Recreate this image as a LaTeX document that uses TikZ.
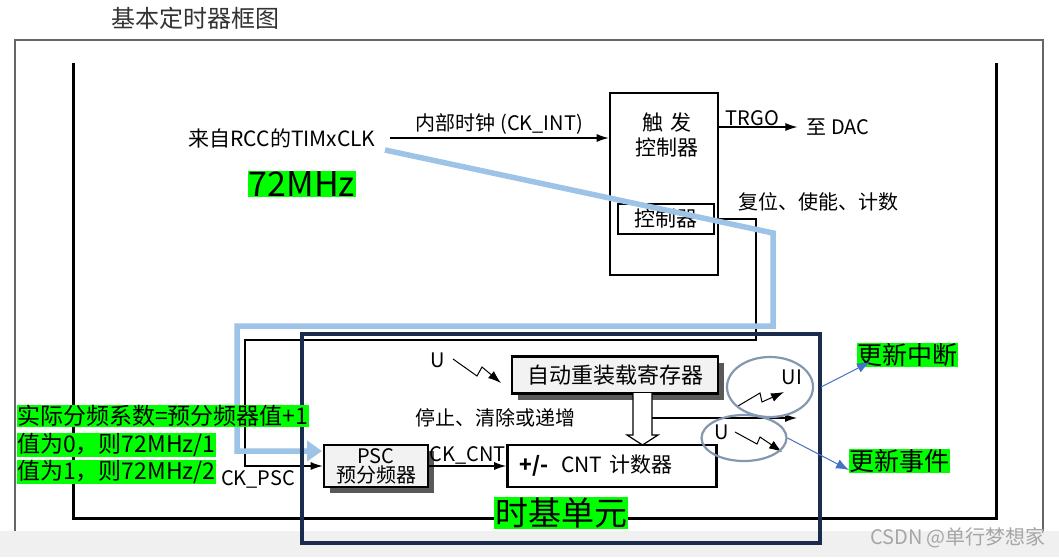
\documentclass[tikz,border=0pt]{standalone}
\usepackage{fontspec}
\setmainfont{Noto Sans CJK SC}
\usetikzlibrary{arrows.meta, positioning, shadows, shapes.geometric}
\definecolor{hlgreen}{RGB}{0,255,0}
\definecolor{pathblue}{RGB}{157,195,230}
\definecolor{navy}{RGB}{26,43,77}
\definecolor{ringgray}{RGB}{132,151,176}
\definecolor{callblue}{RGB}{68,114,196}
\definecolor{boxgray}{RGB}{242,242,242}
\newcommand{\pxfont}[2]{\fontsize{#1}{#2}\selectfont}
\tikzset{
    blockBox/.style={
        draw=black,
        fill=white,
        line width=2.6pt,
        inner sep=0pt
    },
    regBox/.style={
        blockBox,
        fill=boxgray,
        general shadow={fill=black!65, shadow xshift=6pt, shadow yshift=-6pt}
    },
    tag/.style={inner sep=1pt, font=\pxfont{20}{23}},
    hiLite/.style={fill=hlgreen, inner sep=1pt, text=black},
    sigLine/.style={line width=1.2pt},
    bolt/.style={line width=1pt, -{Latex[length=13pt, width=9pt]}},
    ring/.style={ellipse, draw=ringgray, line width=2.2pt, inner sep=0pt},
    callout/.style={draw=callblue, line width=1pt, -{Latex[length=13pt, width=10pt]}}
}

\begin{document}
\begin{tikzpicture}[x=1pt, y=-1pt, >={Latex[length=12pt, width=8pt]}]
    \useasboundingbox[fill=white] (0,0) rectangle (1059,557);
    \fill[black!6] (0,531) rectangle (1059,557);

    % Frames
    \draw[black!60, line width=1.5pt] (15,531) -- (15,40) -- (1043,40) -- (1043,531);
    \draw[line width=3pt] (73,63) -- (73,518) -- (996,518) -- (996,63);
    \node[font=\pxfont{24}{27}, text=black!80] (title) at (195,18) {基本定时器框图};

    % Blocks
    \node[blockBox, minimum width=108, minimum height=182] (trig) at (664,184) {};
    \node[font=\pxfont{21}{25}, align=center] (trigTxt) at (667,135) {触\,\,发\\控制器};
    \node[blockBox, minimum width=96, minimum height=30, font=\pxfont{21}{23}] (ctrl) at (666,219) {控制器};
    \node[regBox, minimum width=206, minimum height=37, font=\pxfont{22}{24}] (arr) at (615,375) {自动重装载寄存器};
    \node[regBox, minimum width=104, minimum height=42, font=\pxfont{20}{19}, align=center] (psc) at (376,466) {PSC\\预分频器};
    \node[blockBox, minimum width=209, minimum height=42, font=\pxfont{21}{23}, text width=185, align=left] (cnt) at (612,466) {\textbf{+/-}\hspace{0.6em}CNT 计数器};

    % Labels
    \node[font=\pxfont{21}{24}] (src) at (282,138) {来自RCC的TIMxCLK};
    \node[tag] (dac) at (838,127) {至 DAC};
    \node[tag] (rstTxt) at (818,202) {复位、使能、计数};
    \node[tag] (stopTxt) at (495,418) {停止、清除或递增};
    \node[tag] (ckpsc) at (258,479) {CK\_PSC};
    \node[tag] (uTxt) at (438,360) {U};
    \node[tag] (uiTxt) at (792,377) {UI};
    \node[tag] (u2Txt) at (722,432) {U};

    % Clock path
    \coordinate (c1) at (756,340);
    \coordinate (c2) at (245,340);
    \draw[sigLine, ->] (src.east -| 390,0) -- (src.east -| trig.west) node[midway, above=2pt, tag] (intclk) {内部时钟 (CK\_INT)};
    \draw[sigLine, ->] (trig.east |- dac.west) -- ([xshift=-8pt]dac.west) node[pos=0, above right=1pt and 6pt, tag, inner sep=0pt] (trgo) {TRGO};
    \draw[sigLine, ->] (ctrl.east) -| (c1) -- (c2) |- (psc.west);
    \draw[sigLine, ->] (psc.east) -- (cnt.west) node[midway, above=1pt, tag, inner sep=0pt] (ckcnt) {CK\_CNT};

    % Reload path
    \draw[sigLine, fill=white] (633,393) -- (633,435) -- (627,435) -- (642.5,445) -- (658,435) -- (652,435) -- (652,393);
    \coordinate (uiOut) at (797,418);
    \draw[sigLine, ->] (652,418) -- (uiOut);

    % Update bolts
    \draw[bolt] (453,359) -- (477,376) -- (482,367) -- (501,383);
    \draw[bolt] (738,406) -- (760,393) -- (762,402) -- (784,392);
    \draw[bolt] (735,432) -- (757,444) -- (760,437) -- (782,452);

    % Highlighted notes
    \coordinate (blueStart) at (385,150);
    \coordinate (blueEnd) at (322,451);
    \draw[pathblue, line width=5.5pt, line join=miter, -{Triangle[length=15pt, width=20pt]}]
        (blueStart) -- (773,233) -- (773,326) -- (237,326) -- (237,451) -- (blueEnd);
    \draw[navy, line width=4pt] (302,334) rectangle (820,543);
    \node[ring, minimum width=86, minimum height=60] (uiRing) at (770,387) {};
    \node[ring, minimum width=85, minimum height=46] (uRing) at (744,438) {};
    \node[hiLite, font=\pxfont{25}{27}, anchor=south west, inner sep=0.5pt] (irqLab) at (857,367) {更新中断};
    \node[hiLite, font=\pxfont{25}{27}, anchor=west, inner sep=0.5pt] (evtLab) at (849,461) {更新事件};
    \draw[callout] ([xshift=7pt]uiRing.east) -- ([xshift=13pt, yshift=5pt]irqLab.south west);
    \draw[callout] (uRing.east) -- ([yshift=-9pt]evtLab.west);
    \node[hiLite, font=\pxfont{34}{37}] (mhz) at (302,184) {72MHz};
    \node[hiLite, font=\pxfont{33}{37}] (baseLab) at (561,513) {时基单元};
    \node[hiLite, font=\pxfont{23}{25}, anchor=west, inner sep=0pt] (divLab1) at (17,416) {实际分频系数=预分频器值+1};
    \node[hiLite, font=\pxfont{23}{25}, anchor=west, inner sep=0pt] (divLab2) at (17,445) {值为0，则72MHz/1};
    \node[hiLite, font=\pxfont{23}{25}, anchor=west, inner sep=0pt] (divLab3) at (17,472) {值为1，则72MHz/2};
    \node[font=\pxfont{20}{22}, text=black!35] (mark) at (958,538) {CSDN @单行梦想家};
\end{tikzpicture}
\end{document}
